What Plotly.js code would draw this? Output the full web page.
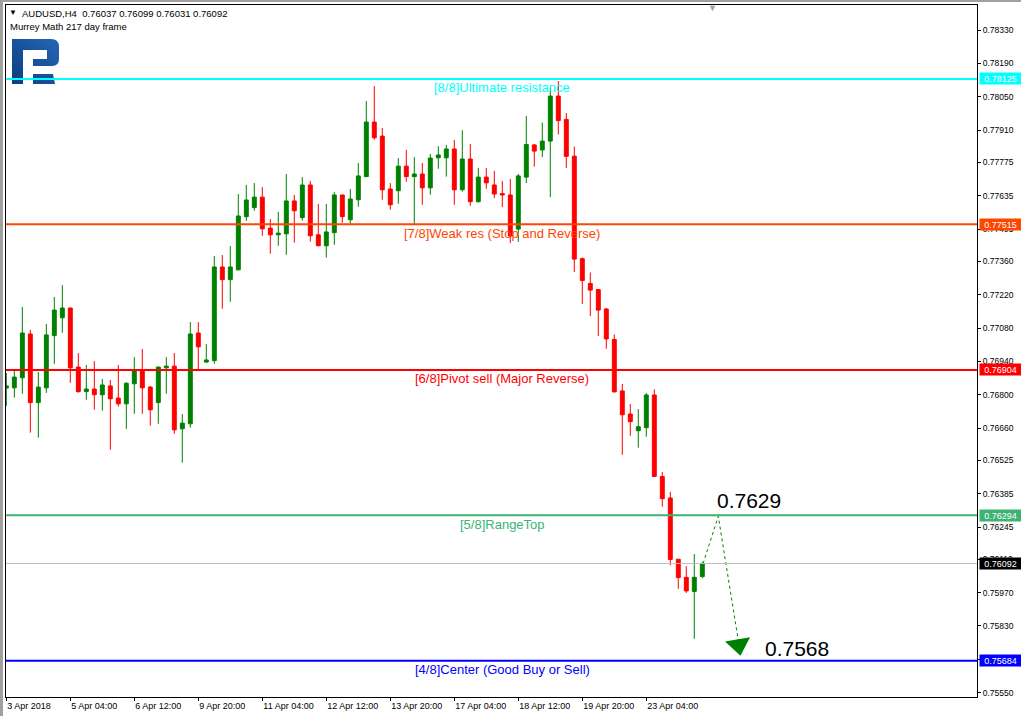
<!DOCTYPE html>
<html><head><meta charset="utf-8">
<script src="https://cdn.plot.ly/plotly-3.0.1.min.js"></script>
<style>html,body{margin:0;padding:0;background:#fff;overflow:hidden}#chart{width:1021px;height:716px}</style>
</head><body><div id="chart"></div>
<script>
// ---- time axis (H4 bars) ----
const days = ['3 Apr','4 Apr','5 Apr','6 Apr','9 Apr','10 Apr','11 Apr','12 Apr','13 Apr','16 Apr','17 Apr','18 Apr','19 Apr','20 Apr','23 Apr','24 Apr'];
const hours = ['00:00','04:00','08:00','12:00','16:00','20:00'];
const firstBar = '3 Apr 20:00';
const tickTimes = ['3 Apr 20:00','5 Apr 04:00','6 Apr 12:00','9 Apr 20:00','11 Apr 04:00','12 Apr 12:00','13 Apr 20:00','17 Apr 04:00','18 Apr 12:00','19 Apr 20:00','23 Apr 04:00'];
const tickLabels = ['3 Apr 2018','5 Apr 04:00','6 Apr 12:00','9 Apr 20:00','11 Apr 04:00','12 Apr 12:00','13 Apr 20:00','17 Apr 04:00','18 Apr 12:00','19 Apr 20:00','23 Apr 04:00'];

// ---- AUDUSD H4 candles ----
const opens  = [0.76828,0.76829,0.76871,0.77055,0.76767,0.76829,0.77048,0.77123,0.77164,0.76916,
                0.76813,0.76824,0.76800,0.76837,0.76786,0.76762,0.76846,0.76904,0.76832,0.76767,
                0.76913,0.76920,0.76657,0.76678,0.77059,0.76937,0.76943,0.77336,0.77283,0.77324,
                0.77547,0.77585,0.77629,0.77499,0.77471,0.77475,0.77613,0.77543,0.77680,0.77471,
                0.77425,0.77480,0.77638,0.77534,0.77618,0.77715,0.77944,0.77885,0.77663,0.77656,
                0.77759,0.77715,0.77726,0.77668,0.77794,0.77794,0.77831,0.77660,0.77789,0.77610,
                0.77713,0.77680,0.77644,0.77638,0.77495,0.77713,0.77848,0.77827,0.77864,0.78053,
                0.77955,0.77801,0.77371,0.77267,0.77241,0.77160,0.77032,0.76816,0.76719,0.76649,
                0.76662,0.76799,0.76457,0.76367,0.76110,0.76034,0.75975,0.76037];
const highs  = [0.76891,0.76900,0.77168,0.77072,0.76895,0.77097,0.77210,0.77260,0.77164,0.76975,
                0.76925,0.76941,0.76866,0.76862,0.76925,0.76853,0.76958,0.76992,0.76837,0.76918,
                0.76958,0.76975,0.76719,0.77105,0.77105,0.77013,0.77382,0.77386,0.77424,0.77642,
                0.77680,0.77688,0.77671,0.77537,0.77567,0.77726,0.77638,0.77713,0.77697,0.77600,
                0.77600,0.77650,0.77638,0.77663,0.77772,0.78032,0.78095,0.77919,0.77688,0.77793,
                0.77827,0.77797,0.77772,0.77810,0.77843,0.77848,0.77869,0.77910,0.77852,0.77752,
                0.77751,0.77739,0.77697,0.77705,0.77726,0.77969,0.77852,0.77942,0.78087,0.78116,
                0.77982,0.77841,0.77376,0.77313,0.77243,0.77164,0.77053,0.76845,0.76761,0.76740,
                0.76807,0.76823,0.76476,0.76393,0.76110,0.76081,0.76132,0.76099];
const lows   = [0.76753,0.76788,0.76804,0.76641,0.76620,0.76808,0.76930,0.77060,0.76850,0.76809,
                0.76779,0.76737,0.76733,0.76569,0.76750,0.76657,0.76720,0.76720,0.76670,0.76678,
                0.76804,0.76636,0.76515,0.76662,0.76905,0.76933,0.76930,0.77161,0.77190,0.77322,
                0.77529,0.77572,0.77467,0.77392,0.77425,0.77387,0.77438,0.77530,0.77442,0.77423,
                0.77375,0.77429,0.77522,0.77517,0.77589,0.77713,0.77870,0.77618,0.77576,0.77601,
                0.77694,0.77513,0.77597,0.77639,0.77748,0.77715,0.77597,0.77652,0.77593,0.77606,
                0.77664,0.77625,0.77587,0.77436,0.77441,0.77688,0.77757,0.77797,0.77629,0.77892,
                0.77751,0.77315,0.77181,0.77130,0.77046,0.76993,0.76810,0.76548,0.76628,0.76578,
                0.76624,0.76455,0.76330,0.76084,0.75986,0.75969,0.75776,0.76031];
const closes = [0.76837,0.76874,0.77059,0.76767,0.76832,0.77051,0.77155,0.77164,0.76913,0.76813,
                0.76824,0.76800,0.76841,0.76783,0.76762,0.76848,0.76904,0.76829,0.76737,0.76916,
                0.76920,0.76653,0.76681,0.77055,0.77001,0.76946,0.77336,0.77283,0.77336,0.77550,
                0.77617,0.77629,0.77496,0.77471,0.77478,0.77613,0.77572,0.77680,0.77467,0.77425,
                0.77483,0.77638,0.77547,0.77621,0.77718,0.77944,0.77878,0.77660,0.77597,0.77759,
                0.77715,0.77726,0.77668,0.77793,0.77806,0.77831,0.77660,0.77789,0.77610,0.77713,
                0.77689,0.77642,0.77638,0.77466,0.77718,0.77850,0.77822,0.77864,0.78053,0.77950,
                0.77800,0.77369,0.77279,0.77239,0.77155,0.77034,0.76812,0.76716,0.76687,0.76666,
                0.76799,0.76457,0.76364,0.76109,0.76033,0.75977,0.76034,0.76092];

// ---- Murrey Math levels ----
const levelNames  = ['[8/8]Ultimate resistance','[7/8]Weak res (Stop and Reverse)','[6/8]Pivot sell (Major Reverse)','[5/8]RangeTop','[4/8]Center (Good Buy or Sell)'];
const levelValues = [0.78125, 0.77515, 0.76904, 0.76294, 0.75684];
const levelColors = ['#00FFFF','#FF4500','#FF0000','#3CB371','#0000FF'];

// ---- price scale ----
const yTicks = [0.78330,0.78190,0.78050,0.77910,0.77775,0.77635,0.77495,0.77360,0.77220,0.77080,0.76940,
                0.76800,0.76660,0.76525,0.76385,0.76245,0.76110,0.75970,0.75830,0.75690,0.75550];

// ---- forecast path (bar index, price) ----
const forecastIdx   = [87.1, 89.0, 91.5];
const forecastPrice = [0.76092, 0.7629, 0.7577];
const arrowIdx = 91.53, arrowPrice = 0.75751;
const peakLabel = '0.7629', targetLabel = '0.7568';

// ---- build ----
const times = [];
let started = false;
days.forEach(d => hours.forEach(h => {
  const t = d + ' ' + h;
  if (t === firstBar) started = true;
  if (started && times.length < opens.length) times.push(t);
}));
const idx = times.map((t, i) => i);
const tickVals = tickTimes.map(t => times.indexOf(t));

// pixel helpers for decoration placement (plot area: x 6..977, y 5..697)
const PL = 6, PW = 971, PT = 5, PH = 692;
const px = v => (v - PL) / PW;
const py = v => 1 - (v - PT) / PH;

const FONT = 'Liberation Sans, Arial, sans-serif';
const green = '#008000', red = '#FF0000';

const traces = [
  {
    type: 'candlestick', x: idx, open: opens, high: highs, low: lows, close: closes,
    increasing: {line: {color: green, width: 1}, fillcolor: green},
    decreasing: {line: {color: red, width: 1}, fillcolor: red},
    whiskerwidth: 0, hoverinfo: 'none', showlegend: false
  },
  {
    type: 'scatter', mode: 'lines', x: forecastIdx, y: forecastPrice,
    line: {color: green, width: 1, dash: 'dot'}, hoverinfo: 'none', showlegend: false
  },
  {
    type: 'scatter', mode: 'markers', x: [arrowIdx], y: [arrowPrice],
    marker: {symbol: 'triangle-down', size: 22, color: green, angle: -10, line: {width: 0}},
    hoverinfo: 'none', showlegend: false
  }
];

const shapes = [];
// current price line
shapes.push({type: 'line', xref: 'paper', x0: 0, x1: 1, yref: 'y', y0: closes[closes.length-1], y1: closes[closes.length-1],
             line: {color: '#C0C0C0', width: 1}, layer: 'above'});
levelValues.forEach((v, i) => shapes.push({type: 'line', xref: 'paper', x0: 0, x1: 1, yref: 'y', y0: v, y1: v,
             line: {color: levelColors[i], width: 2}, layer: 'above'}));
// window borders (grey)
shapes.push({type: 'rect', xref: 'paper', yref: 'paper', x0: px(0), x1: px(3), y0: py(716), y1: py(0), fillcolor: '#A0A0A0', line: {width: 0}});
shapes.push({type: 'rect', xref: 'paper', yref: 'paper', x0: px(0), x1: px(1021), y0: py(2), y1: py(0), fillcolor: '#A0A0A0', line: {width: 0}});

const annotations = [];
levelNames.forEach((n, i) => annotations.push({
  text: n, xref: 'paper', x: px(502), yref: 'y', y: levelValues[i], yshift: -9,
  xanchor: 'center', yanchor: 'middle', showarrow: false,
  font: {family: FONT, size: 13, color: levelColors[i]}
}));
// right-side price boxes
const boxVals = levelValues.concat([closes[closes.length-1]]);
const boxCols = levelColors.concat(['#000000']);
boxVals.forEach((v, i) => annotations.push({
  text: v.toFixed(5), xref: 'paper', x: 1, xanchor: 'left', xshift: 1.5, yref: 'y', y: v, yanchor: 'middle',
  showarrow: false, bgcolor: boxCols[i], borderpad: 0, width: 41, height: 11,
  font: {family: FONT, size: 9, color: '#FFFFFF'}
}));
// header
const last = opens.length - 1;
annotations.push({text: '▼', xref: 'paper', yref: 'paper', x: px(13), y: py(13), xanchor: 'center', yanchor: 'middle',
  showarrow: false, font: {family: FONT, size: 8, color: '#000'}});
annotations.push({text: 'AUDUSD,H4  ' + [opens[last], highs[last], lows[last], closes[last]].map(v => v.toFixed(5)).join(' '),
  xref: 'paper', yref: 'paper', x: px(20), y: py(13.5), xanchor: 'left', yanchor: 'middle', showarrow: false,
  font: {family: FONT, size: 9.5, color: '#000'}});
annotations.push({text: 'Murrey Math 217 day frame', xref: 'paper', yref: 'paper', x: px(8), y: py(26.5), xanchor: 'left', yanchor: 'middle',
  showarrow: false, font: {family: FONT, size: 9.5, color: '#000'}});
// chart shift marker
annotations.push({text: '▼', xref: 'paper', yref: 'paper', x: px(712), y: py(8), xanchor: 'center', yanchor: 'middle',
  showarrow: false, font: {family: FONT, size: 9, color: '#A0A0A0'}});
// forecast labels
annotations.push({text: peakLabel, x: forecastIdx[1], y: forecastPrice[1], xanchor: 'left', yanchor: 'middle',
  xshift: -3, yshift: 15.5, showarrow: false, font: {family: FONT, size: 21, color: '#000'}});
annotations.push({text: targetLabel, x: arrowIdx, y: arrowPrice, xanchor: 'left', yanchor: 'middle',
  xshift: 24, yshift: -4, showarrow: false, font: {family: FONT, size: 21, color: '#000'}});

// logo (RoboForex "R" mark)
const logoSvg = "<svg xmlns='http://www.w3.org/2000/svg' width='47' height='45' viewBox='0 0 47 45'>" +
  "<defs><linearGradient id='g' x1='0' y1='1' x2='1' y2='0'><stop offset='0' stop-color='#0B3F80'/><stop offset='1' stop-color='#2466B4'/></linearGradient></defs>" +
  "<path fill='url(#g)' d='M0,0 H39 Q47,0 47,8 V20 Q47,27 40,27 H21 V20 H35 V11 H11 V45 H0 Z M21,35 H41 L43,45 H21 Z'/></svg>";

const layout = {
  width: 1021, height: 716,
  margin: {l: PL, r: 1021 - PL - PW, t: PT, b: 716 - PT - PH, pad: 0},
  paper_bgcolor: '#FFFFFF', plot_bgcolor: '#FFFFFF',
  showlegend: false, boxgap: 0.3, boxgroupgap: 0.3, hovermode: false,
  font: {family: FONT, color: '#000'},
  xaxis: {
    type: 'linear', range: [-0.04, 121.34], rangeslider: {visible: false},
    tickmode: 'array', tickvals: tickVals, ticktext: tickLabels,
    ticks: 'outside', ticklen: 3, tickcolor: '#000', ticklabelposition: 'outside right',
    tickfont: {family: FONT, size: 9, color: '#000'},
    showgrid: false, zeroline: false, showline: true, mirror: true, linecolor: '#000', linewidth: 1
  },
  yaxis: {
    side: 'right', range: [0.75532, 0.78435],
    tickmode: 'array', tickvals: yTicks, ticktext: yTicks.map(v => v.toFixed(5)),
    ticks: 'outside', ticklen: 3, tickcolor: '#000',
    tickfont: {family: FONT, size: 8.5, color: '#000'},
    showgrid: false, zeroline: false, showline: true, mirror: true, linecolor: '#000', linewidth: 1
  },
  shapes: shapes, annotations: annotations,
  images: [{source: 'data:image/svg+xml;charset=utf-8,' + encodeURIComponent(logoSvg),
            xref: 'paper', yref: 'paper', x: px(12), y: py(39), sizex: 47 / PW, sizey: 45 / PH,
            xanchor: 'left', yanchor: 'top', sizing: 'stretch', layer: 'above'}]
};

Plotly.newPlot('chart', traces, layout, {displayModeBar: false, staticPlot: true});
</script></body></html>
